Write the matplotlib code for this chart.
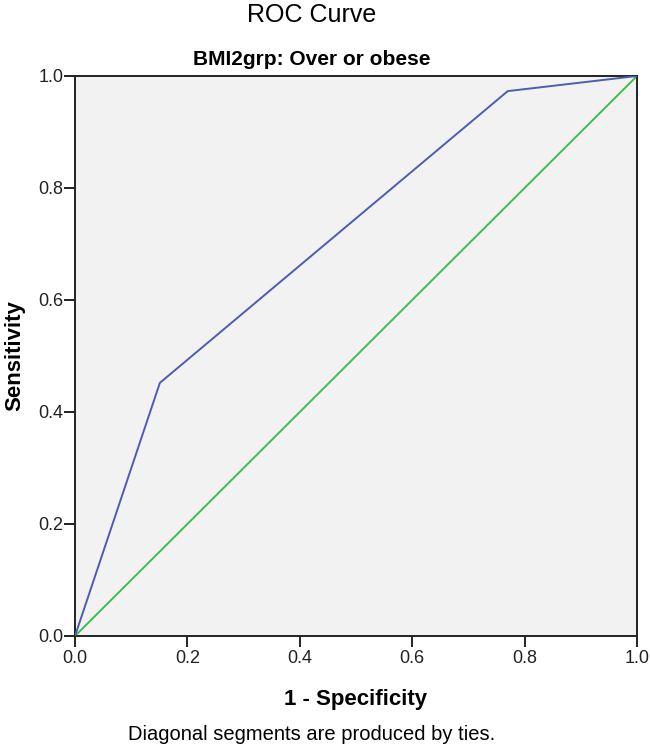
import numpy as np
import matplotlib
matplotlib.use("Agg")
import matplotlib.pyplot as plt

plt.rcParams['font.family'] = ['Liberation Sans', 'DejaVu Sans']

# ROC curve points (1 - specificity, sensitivity)
fpr = [0.0, 0.151, 0.770, 1.0]
tpr = [0.0, 0.452, 0.973, 1.0]
ref_x = [0.0, 1.0]
ref_y = [0.0, 1.0]
ticks = [0.0, 0.2, 0.4, 0.6, 0.8, 1.0]

W, H = 650, 750
fig = plt.figure(figsize=(6.5, 7.5), dpi=100)
ax = fig.add_axes([75 / W, 1 - 636 / H, 562 / W, 560 / H])
ax.set_facecolor("#f2f2f2")

ax.plot(ref_x, ref_y, color="#3dbf45", linewidth=1.4, zorder=2)
ax.plot(fpr, tpr, color="#4a5db0", linewidth=1.4, zorder=3)

ax.set_xlim(0, 1)
ax.set_ylim(0, 1)
ax.set_xticks(ticks)
ax.set_yticks(ticks)
ax.set_xticklabels(["%.1f" % t for t in ticks])
ax.set_yticklabels(["%.1f" % t for t in ticks])
ax.tick_params(direction="out", length=8, width=1.4, color="#222222",
               labelsize=13, labelcolor="#222222")
ax.tick_params(axis="x", pad=2)
ax.tick_params(axis="y", pad=0.5)
for s in ax.spines.values():
    s.set_color("#222222")
    s.set_linewidth(1.4)

ax.set_xlabel("1 - Specificity", fontsize=16, fontweight="bold", va="baseline")
ax.xaxis.set_label_coords(0.5, (636 - 705) / 560)
ax.set_ylabel("Sensitivity", fontsize=16, fontweight="bold", va="center")
ax.yaxis.set_label_coords((14.7 - 75) / 562, 0.5)

fig.text(312 / W, 1 - 22 / H, "ROC Curve", ha="center", va="baseline", fontsize=18)
fig.text(311.5 / W, 1 - 65 / H, "BMI2grp: Over or obese", ha="center",
         va="baseline", fontsize=15, fontweight="bold")
fig.text(311.5 / W, 1 - 740 / H, "Diagonal segments are produced by ties.",
         ha="center", va="baseline", fontsize=14.5)

fig.savefig("out.png", dpi=100)
